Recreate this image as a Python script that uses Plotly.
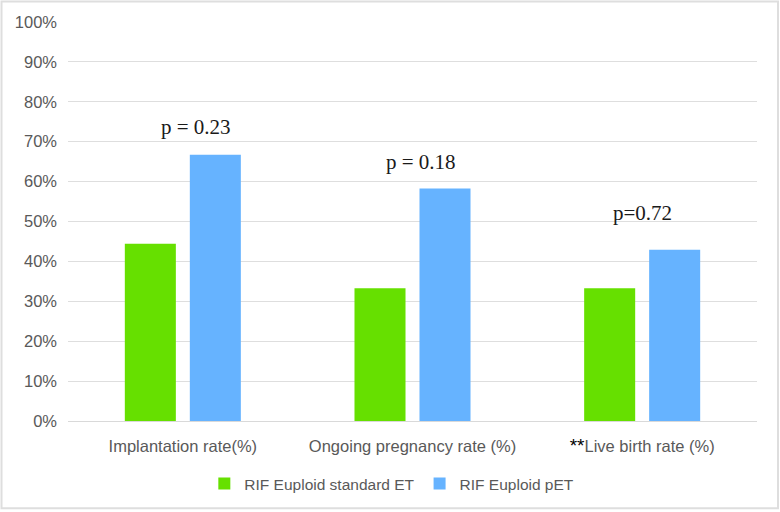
import plotly.graph_objects as go

categories = ["Implantation rate(%)", "Ongoing pregnancy rate (%)", "Live birth rate (%)"]
tick_labels = ["Implantation rate(%)", "Ongoing pregnancy rate (%)",
               "<span style='color:#000000;font-size:19px'>**</span>Live birth rate (%)"]
standard_et = [0.444, 0.333, 0.333]
pet = [0.667, 0.583, 0.429]
p_labels = ["p = 0.23", "p = 0.18", "p=0.72"]
p_y = [0.7375, 0.65, 0.5225]
p_xshift = [13, 8, 0]

fig = go.Figure()
fig.add_trace(go.Bar(x=categories, y=standard_et, name="RIF Euploid standard ET",
                     marker=dict(color="#66E000", line=dict(width=0))))
fig.add_trace(go.Bar(x=categories, y=pet, name="RIF Euploid pET",
                     marker=dict(color="#66B3FF", line=dict(width=0))))

for c, t, y, xs in zip(categories, p_labels, p_y, p_xshift):
    fig.add_annotation(x=c, y=y, xref="x", yref="y", text=t, showarrow=False,
                       xshift=xs, font=dict(family="Liberation Serif, Times New Roman, serif",
                                            size=21, color="#1a1a1a"))

# outer frame
fig.add_shape(type="rect", xref="paper", yref="paper",
              x0=-0.0965, x1=1.0305, y0=-0.21875, y1=1.05125,
              line=dict(color="#DEDEDE", width=2), fillcolor="rgba(0,0,0,0)", layer="below")

fig.update_layout(
    width=780, height=512,
    margin=dict(l=68, r=23, t=22, b=90),
    paper_bgcolor="white", plot_bgcolor="white",
    barmode="group", bargap=0.434, bargroupgap=0.215,
    font=dict(family="Liberation Sans, Arial, sans-serif", color="#595959"),
    showlegend=True,
    legend=dict(orientation="h", x=0.47, xanchor="center", y=-0.155, yanchor="middle",
                font=dict(size=15.5, color="#595959"), itemwidth=30, traceorder="normal"),
    xaxis=dict(tickvals=categories, ticktext=tick_labels, tickfont=dict(size=16.5),
               showgrid=False, showline=True, linecolor="#D9D9D9", linewidth=1,
               ticks="", ticklabelstandoff=10, zeroline=False),
    yaxis=dict(range=[0, 1], dtick=0.1, tickformat=".0%", tickfont=dict(size=16.5),
               showgrid=True, gridcolor="#DEDEDE", gridwidth=1, zeroline=False,
               showline=False, ticks="", ticklabelstandoff=10),
)

fig.write_html("out.html", config={"displayModeBar": False},
               post_script="document.body.style.margin='0';document.body.style.padding='0';")
